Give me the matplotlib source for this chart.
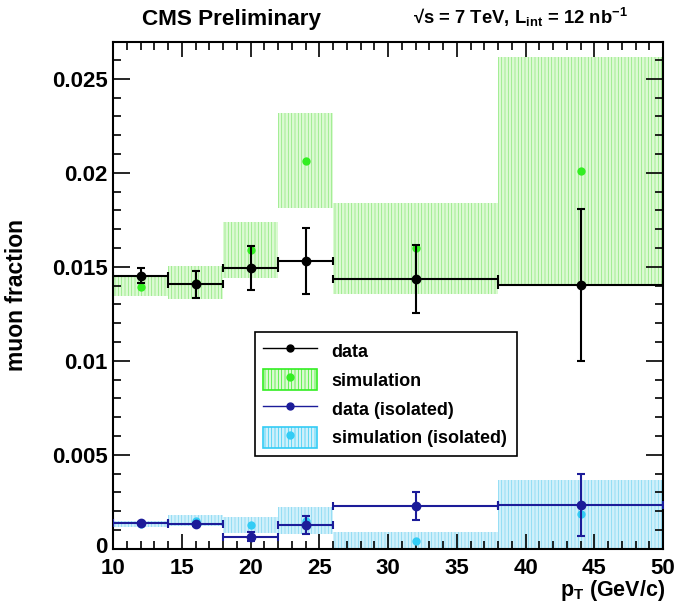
import matplotlib
matplotlib.use("Agg")
import matplotlib.pyplot as plt
import matplotlib.transforms as mtransforms
from matplotlib.patches import Patch
from matplotlib.lines import Line2D
import numpy as np

# ---- data ----
bin_edges = [10, 14, 18, 22, 26, 38, 50]
centers = [12, 16, 20, 24, 32, 44]

data_all = [0.01452, 0.01406, 0.01495, 0.01530, 0.01436, 0.01403]
data_all_err = [0.00040, 0.00071, 0.00117, 0.00177, 0.00181, 0.00402]

sim_all = [0.01394, 0.01415, 0.01589, 0.02064, 0.01598, 0.02011]
sim_all_err = [0.00052, 0.00089, 0.00151, 0.00253, 0.00242, 0.00603]

data_iso = [0.00137, 0.00129, 0.00064, 0.00126, 0.00227, 0.00232]
data_iso_err = [0.00005, 0.00008, 0.00025, 0.00050, 0.00073, 0.00166]

sim_iso = [0.00133, 0.00150, 0.00124, 0.00150, 0.00040, 0.00184]
sim_iso_err = [0.00016, 0.00028, 0.00042, 0.00070, 0.00047, 0.00183]

labels = ["data", "simulation", "data (isolated)", "simulation (isolated)"]

plt.rcParams['font.family'] = ['Liberation Sans', 'DejaVu Sans']
plt.rcParams['font.weight'] = 'bold'
plt.rcParams['mathtext.fontset'] = 'custom'
plt.rcParams['mathtext.rm'] = 'Liberation Sans:bold'
plt.rcParams['mathtext.bf'] = 'Liberation Sans:bold'
plt.rcParams['mathtext.it'] = 'Liberation Sans:bold'
plt.rcParams['hatch.linewidth'] = 0.5

GREEN = '#33ee22'
GREEN_FACE = '#dcfad3'
CYAN = '#33ccf5'
CYAN_FACE = '#d0f0fb'
NAVY = '#1c1c99'

fig = plt.figure(figsize=(6.79, 6.04), dpi=100)
ax = fig.add_axes([113/679, 1-548.7/604, 550/679, 507/604])

widths = np.diff(bin_edges)
xerr = widths / 2

# simulation boxes
sa = np.array(sim_all); sae = np.array(sim_all_err)
ax.bar(centers, 2*sae, bottom=sa-sae, width=widths, color=GREEN_FACE,
       edgecolor='#8ae87a', hatch='|||||', linewidth=0, zorder=1)
si = np.array(sim_iso); sie = np.array(sim_iso_err)
lo = np.clip(si - sie, 0, None)
ax.bar(centers, si + sie - lo, bottom=lo, width=widths, color=CYAN_FACE,
       edgecolor='#7dd6f2', hatch='|||||', linewidth=0, zorder=1)

ax.plot(centers, sim_all, 'o', color=GREEN, ms=6, zorder=2, mec='none')
ax.plot(centers, sim_iso, 'o', color=CYAN, ms=6, zorder=2, mec='none')

ax.errorbar(centers, data_all, yerr=data_all_err, xerr=xerr, fmt='o',
            color='black', ms=6, elinewidth=1.5, capsize=3, capthick=1.5, zorder=4)
ax.errorbar(centers, data_iso, yerr=data_iso_err, xerr=xerr, fmt='o',
            color=NAVY, ms=6, elinewidth=1.5, capsize=3, capthick=1.5, zorder=4)

ax.set_xlim(10, 50)
ax.set_ylim(0, 0.02697)
ax.set_xticks([10, 15, 20, 25, 30, 35, 40, 45, 50])
ax.set_xticks(np.arange(10, 51, 1), minor=True)
ax.set_yticks([0, 0.005, 0.01, 0.015, 0.02, 0.025])
ax.set_yticklabels(['0', '0.005', '0.01', '0.015', '0.02', '0.025'])
ax.set_yticks(np.arange(0, 0.0265, 0.001), minor=True)

ax.tick_params(which='both', direction='in', top=True, right=True,
               labelsize=16, width=1.2)
ax.tick_params(axis='x', which='major', length=11, pad=6.5)
ax.tick_params(axis='x', which='minor', length=5.5)
ax.tick_params(axis='y', which='major', length=12, pad=4)
ax.tick_params(axis='y', which='minor', length=6)
for lab in ax.get_xticklabels() + ax.get_yticklabels():
    lab.set_fontweight('bold')
# nudge the "0" label up slightly so it does not collide with "10"
zero_lab = ax.get_yticklabels()[0]
zero_lab.set_transform(zero_lab.get_transform() +
                       mtransforms.ScaledTranslation(0, 4/100, fig.dpi_scale_trans))
for s in ax.spines.values():
    s.set_linewidth(1.5)

ax.set_ylabel('muon fraction', fontsize=16.5, fontweight='bold')
ax.yaxis.set_label_coords(-0.155, 0.5)
fig.text(665/679, 1-596/604, r'p$_\mathrm{T}$ (GeV/c)', ha='right', va='baseline',
         fontsize=15.5, fontweight='bold')

fig.text(231/679, 1-20/604, 'CMS Preliminary', ha='center', va='center',
         fontsize=16.2, fontweight='bold')
fig.text(628/679, 1-24/604, r'√s = 7 TeV, L$_\mathrm{int}$ = 12 nb$^\mathrm{-1}$',
         ha='right', va='baseline', fontsize=13.3, fontweight='bold')

# legend
h_data = Line2D([], [], color='black', marker='o', ms=5, lw=1)
h_sim = (Patch(facecolor=GREEN_FACE, edgecolor=GREEN, hatch='|||||', lw=1.2),
         Line2D([], [], color=GREEN, marker='o', ms=6, lw=0, mec='none'))
h_diso = Line2D([], [], color=NAVY, marker='o', ms=5, lw=1)
h_siso = (Patch(facecolor=CYAN_FACE, edgecolor=CYAN, hatch='|||||', lw=1.2),
          Line2D([], [], color=CYAN, marker='o', ms=6, lw=0, mec='none'))
x0 = (255-113)/550; x1 = (517-113)/550
ytop = (548.7-332)/507; ybot = (548.7-455)/507
leg = ax.legend([h_data, h_sim, h_diso, h_siso], labels,
                loc='upper left', bbox_to_anchor=(x0, ybot, x1-x0, ytop-ybot),
                mode='expand', fontsize=13, frameon=True, fancybox=False,
                edgecolor='black', framealpha=1, borderaxespad=0,
                handlelength=3.0, handleheight=1.4, labelspacing=0.45,
                borderpad=0.45)
leg.get_frame().set_linewidth(1.2)
for t in leg.get_texts():
    t.set_fontweight('bold')

fig.savefig('out.png', dpi=100)
